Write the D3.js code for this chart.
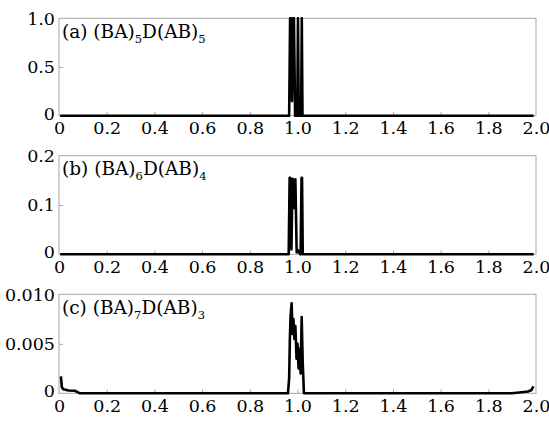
<!DOCTYPE html>
<html>
<head>
<meta charset="utf-8">
<script src="https://cdn.jsdelivr.net/npm/d3@7/dist/d3.min.js"></script>
<style>
  html, body { margin: 0; padding: 0; background: #fff; }
  svg { display: block; }
</style>
</head>
<body>
<svg id="chart" width="549" height="422"></svg>
<script>
// ---------- data ----------
const xTicks = [0, 0.2, 0.4, 0.6, 0.8, 1.0, 1.2, 1.4, 1.6, 1.8, 2.0];
const xTickLabels = ["0", "0.2", "0.4", "0.6", "0.8", "1.0", "1.2", "1.4", "1.6", "1.8", "2.0"];

// panel (a) (BA)5D(AB)5
const freqA  = [0.005, 0.965, 0.969, 0.972, 0.977, 0.981, 0.985, 0.990, 0.999, 1.002, 1.005, 1.015, 1.018, 1.021, 1.990];
const transA = [0,     0,     1.0,   1.0,   0.15,  1.0,   1.0,   0,     0,     1.0,   0,     0,     1.0,   0,     0];
const yTicksA = [0, 0.5, 1.0];
const yTickLabelsA = ["0", "0.5", "1.0"];

// panel (b) (BA)6D(AB)4
const freqB  = [0.005, 0.963, 0.967, 0.969, 0.9745, 0.979, 0.9805, 0.985, 0.991, 0.9965, 1.0005, 1.006, 1.013, 1.017, 1.019, 1.022, 1.990];
const transB = [0,     0,     0.155, 0.155, 0.01,   0.153, 0.152,  0.094, 0.152, 0.004,  0.009,  0.004, 0,     0.155, 0.155, 0,     0];
const yTicksB = [0, 0.1, 0.2];
const yTickLabelsB = ["0", "0.1", "0.2"];

// panel (c) (BA)7D(AB)3
const freqC  = [0.008, 0.012, 0.018, 0.040, 0.067, 0.080, 0.088, 0.960, 0.965, 0.968, 0.971, 0.9755, 0.979, 0.983, 0.987, 0.991, 0.996, 1.000, 1.0045, 1.009, 1.013, 1.0175, 1.022, 1.027, 1.898, 1.930, 1.966, 1.980, 1.989];
const transC = [0.0017, 0.0006, 0.0004, 0.00028, 0.00026, 0.0001, 0, 0, 0.0015, 0.0055, 0.0078, 0.0091, 0.0060, 0.0075, 0.0055, 0.0068, 0.0035, 0.0050, 0.0025, 0.0045, 0.0020, 0.0077, 0.0030, 0, 0, 0.00008, 0.00018, 0.0003, 0.0007];
const yTicksC = [0, 0.005, 0.010];
const yTickLabelsC = ["0", "0.005", "0.010"];

const panels = [
  { tag: "(a) ", p1: "(BA)", s1: "5", p2: "D(AB)", s2: "5", freq: freqA, trans: transA, ymax: 1.0, yTicks: yTicksA, yLabels: yTickLabelsA, top: 18.3, bottom: 115.7 },
  { tag: "(b) ", p1: "(BA)", s1: "6", p2: "D(AB)", s2: "4", freq: freqB, trans: transB, ymax: 0.2, yTicks: yTicksB, yLabels: yTickLabelsB, top: 155.7, bottom: 254.3 },
  { tag: "(c) ", p1: "(BA)", s1: "7", p2: "D(AB)", s2: "3", freq: freqC, trans: transC, ymax: 0.010, yTicks: yTicksC, yLabels: yTickLabelsC, top: 294.3, bottom: 393.3 }
];

// ---------- drawing ----------
const svg = d3.select("#chart");
svg.append("rect").attr("width", 549).attr("height", 422).attr("fill", "#fff");

const left = 59, right = 536;
const x = d3.scaleLinear().domain([0, 2]).range([left, right]);
const FONT = "'DejaVu Serif', serif";
const frameColor = "#a8a8a8";

panels.forEach(p => {
  const y = d3.scaleLinear().domain([0, p.ymax]).range([p.bottom, p.top]);
  const g = svg.append("g");

  // frame
  g.append("rect")
    .attr("x", left).attr("y", p.top)
    .attr("width", right - left).attr("height", p.bottom - p.top)
    .attr("fill", "none").attr("stroke", frameColor).attr("stroke-width", 1);

  // x axis (ticks inside, labels below)
  const xAxis = d3.axisBottom(x).tickValues(xTicks)
    .tickSizeInner(-4).tickSizeOuter(0)
    .tickFormat((d, i) => xTickLabels[i]);
  const gx = g.append("g").attr("transform", `translate(0,${p.bottom})`).call(xAxis);
  gx.select(".domain").remove();
  gx.selectAll(".tick line").attr("stroke", frameColor)
    .attr("display", (d, i) => (i === 0 || i === xTicks.length - 1) ? "none" : null);
  gx.selectAll(".tick text")
    .attr("font-family", FONT).attr("font-size", 17.5).attr("fill", "#000")
    .attr("y", 18.5).attr("dy", 0);

  // y axis
  const yAxis = d3.axisLeft(y).tickValues(p.yTicks)
    .tickSizeInner(-4).tickSizeOuter(0).tickPadding(8)
    .tickFormat((d, i) => p.yLabels[i]);
  const gy = g.append("g").attr("transform", `translate(${left},0)`).call(yAxis);
  gy.select(".domain").remove();
  gy.selectAll(".tick line").attr("stroke", frameColor)
    .attr("display", (d, i) => (i === 0 || i === p.yTicks.length - 1) ? "none" : null);
  gy.selectAll(".tick text")
    .attr("font-family", FONT).attr("font-size", 17.5).attr("fill", "#000")
    .attr("x", -4).attr("dy", (d, i) => i === 0 ? "0.2em" : "0.34em");

  // curve
  const pts = p.freq.map((f, i) => [f, p.trans[i]]);
  const line = d3.line().x(d => x(d[0])).y(d => y(d[1]));
  g.append("path").datum(pts)
    .attr("d", line)
    .attr("fill", "none").attr("stroke", "#000")
    .attr("stroke-width", 2.6)
    .attr("stroke-linejoin", "round").attr("stroke-linecap", "butt");

  // panel label with subscripts
  const t = g.append("text")
    .attr("x", left + 3).attr("y", p.top + 19.5)
    .attr("font-family", FONT).attr("font-size", 18.5).attr("fill", "#000");
  t.append("tspan").text(p.tag + p.p1);
  t.append("tspan").text(p.s1).attr("font-size", 11.5).attr("dy", 5);
  t.append("tspan").text(p.p2).attr("dy", -5);
  t.append("tspan").text(p.s2).attr("font-size", 11.5).attr("dy", 5);
});
</script>
</body>
</html>
